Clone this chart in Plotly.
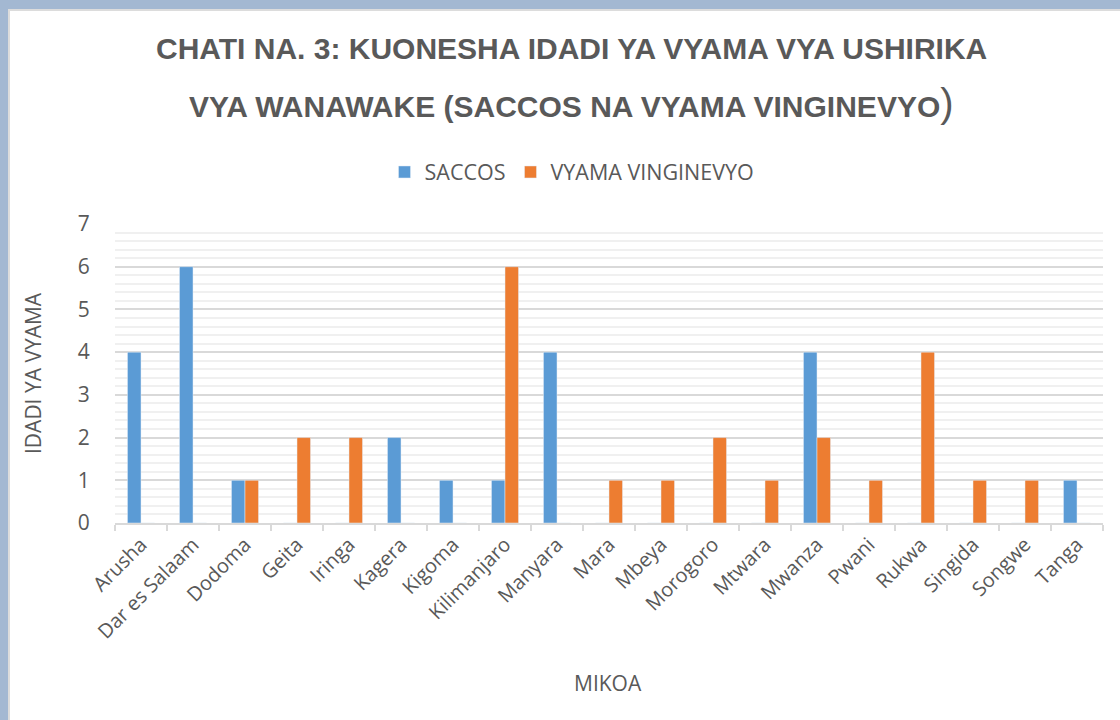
import plotly.graph_objects as go

mikoa = ["Arusha", "Dar es Salaam", "Dodoma", "Geita", "Iringa", "Kagera", "Kigoma",
         "Kilimanjaro", "Manyara", "Mara", "Mbeya", "Morogoro", "Mtwara", "Mwanza",
         "Pwani", "Rukwa", "Singida", "Songwe", "Tanga"]
saccos = [4, 6, 1, 0, 0, 2, 1, 1, 4, 0, 0, 0, 0, 4, 0, 0, 0, 0, 1]
vinginevyo = [0, 0, 1, 2, 2, 0, 0, 6, 0, 1, 1, 2, 1, 2, 1, 4, 1, 1, 0]
y_ticks = [0, 1, 2, 3, 4, 5, 6, 7]

FONT = "Open Sans"
GRAY = "#595959"

W, H = 1120, 720
L, R, T, B = 115, 17, 224, 197
pw, ph = W - L - R, H - T - B

def px(x):
    return (x - L) / pw

def py(y):
    return (H - B - y) / ph

fig = go.Figure()
fig.add_trace(go.Bar(x=mikoa, y=saccos, name="SACCOS", marker_color="#5b9bd5"))
fig.add_trace(go.Bar(x=mikoa, y=vinginevyo, name="VYAMA VINGINEVYO", marker_color="#ed7d31"))

fig.update_layout(
    width=W, height=H,
    margin=dict(l=L, r=R, t=T, b=B, autoexpand=False),
    paper_bgcolor="#a3b8d2",
    plot_bgcolor="white",
    barmode="group",
    bargap=0.48,
    bargroupgap=0,
    font=dict(family=FONT, color=GRAY, size=20),
    showlegend=True,
    legend=dict(orientation="h", x=px(572), xanchor="center", y=py(172), yanchor="middle",
                font=dict(size=21.5, color=GRAY), bgcolor="rgba(0,0,0,0)",
                itemwidth=30, tracegroupgap=0),
    xaxis=dict(
        tickangle=-45, tickfont=dict(size=20, color=GRAY, family=FONT),
        showline=True, linecolor="#d9d9d9", linewidth=2,
        ticks="outside", tickson="boundaries", ticklen=6, tickcolor="#d9d9d9", tickwidth=2,
        showgrid=False,
    ),
    yaxis=dict(
        range=[0, 7], tickvals=y_ticks, tickfont=dict(size=21, color=GRAY, family=FONT),
        showgrid=True, gridcolor="#d9d9d9", gridwidth=1.5,
        minor=dict(dtick=0.2, showgrid=True, gridcolor="#f0f0f0", gridwidth=1.5),
        ticks="outside", ticklen=20, tickcolor="rgba(0,0,0,0)",
        zeroline=False, showline=False,
    ),
    shapes=[dict(type="rect", xref="paper", yref="paper", layer="below",
                 x0=px(9), x1=px(1130), y0=py(730), y1=py(10),
                 fillcolor="white", line=dict(color="#dcdcdc", width=2))],
    annotations=[
        dict(text="<b>CHATI NA. 3: KUONESHA IDADI YA VYAMA VYA USHIRIKA</b>",
             x=px(571), y=py(49), xref="paper", yref="paper", showarrow=False,
             yanchor="middle", xanchor="center",
             font=dict(family="Liberation Sans", size=30, color=GRAY)),
        dict(text="<b>VYA WANAWAKE (SACCOS NA VYAMA VINGINEVYO</b><span style='font-size:40px'>)</span>",
             x=px(571), y=py(103), xref="paper", yref="paper", showarrow=False,
             yanchor="middle", xanchor="center",
             font=dict(family="Liberation Sans", size=30, color=GRAY)),
        dict(text="IDADI YA VYAMA", x=px(33), y=py(373), xref="paper", yref="paper",
             showarrow=False, textangle=-90, yanchor="middle", xanchor="center",
             font=dict(family=FONT, size=21, color=GRAY)),
        dict(text="MIKOA", x=px(608), y=py(683), xref="paper", yref="paper",
             showarrow=False, yanchor="middle", xanchor="center",
             font=dict(family=FONT, size=21, color=GRAY)),
    ],
)

fig.write_html("out.html", config={"displayModeBar": False},
               post_script="document.body.style.margin='0';")
